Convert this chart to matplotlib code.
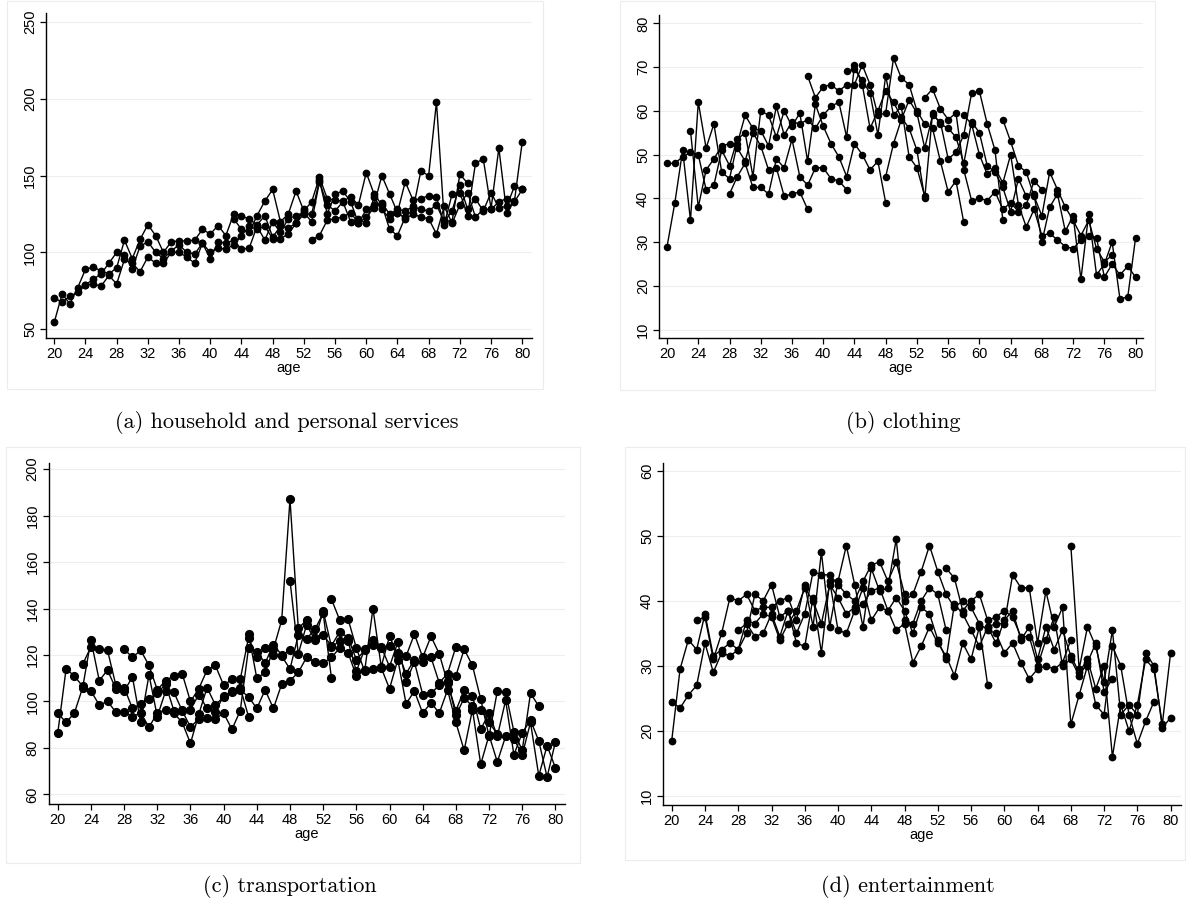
import matplotlib
matplotlib.use("Agg")
import matplotlib.pyplot as plt
from matplotlib.patches import Rectangle

plt.rcParams["font.family"] = ["Liberation Sans", "DejaVu Sans"]

# each series: (first age, values by consecutive age)
household = [
    (20, [70.5, 67.5, 71.5, 74, 79, 82.5, 86, 93, 100, 98.5, 89.5, 104, 107, 100, 96, 101, 105, 100, 99, 106,
          96, 107, 106, 108, 102, 103, 117, 108, 120, 113, 122, 124, 126, 120, 146, 131, 127, 133, 120, 122,
          119, 136, 128, 122, 126, 122, 125, 123, 122, 112, 130, 119, 131, 139, 123, 128, 128, 133, 135, 133, 141]),
    (20, [54.5, 73, 66.5, 77, 89, 90.5, 88, 86, 90, 108, 96, 108.5, 118, 111, 100, 107, 107.5, 107.5, 108, 115,
          112, 117.5, 111, 125, 124, 121.5, 118, 124, 110, 117, 116, 119, 125, 125, 147, 125, 138, 140, 133, 119,
          128, 131, 150, 138, 126, 146, 134, 135, 137, 136, 118, 138, 139, 124, 158, 161, 128.5, 168, 126, 133.5, 172]),
    (24, [79, 79.5, 78, 85, 79.5, 95.5, 93, 87.5, 97, 93, 93, 100, 100, 97, 93, 106, 100, 103, 102, 105,
          111, 117, 115, 117, 109, 109, 112, 119, 128]),
    (43, [122, 115, 113, 124, 133.5, 141, 120, 125, 140, 127, 133, 149, 135, 134, 133.5, 136, 131, 152, 138, 131,
          115, 111, 123, 128, 153, 150, 198, 121, 120, 151, 145]),
    (53, [108, 111, 121, 122, 123, 126, 119, 123, 129, 132, 125, 128, 127, 130, 128, 127, 131, 120, 127, 144,
          128, 135, 127, 139, 129, 130, 143, 141]),
]

clothing = [
    (20, [29, 39, 51, 35, 62, 51.5, 57, 46, 44.5, 52.5, 59, 56, 55.5, 52, 61, 54.5, 57.5, 57, 58, 56,
          59, 61, 62, 54, 70.5, 66, 56, 60, 64.5, 62, 58.5, 56, 51, 40, 59.5, 57, 56, 54, 48, 57.5,
          55, 47.5, 46, 42.5, 37, 44.5, 40.5, 41, 30, 38, 41, 32.5, 36, 21.5, 36.5, 22.5, 25, 30, 17, 17.5, 31]),
    (20, [48, 48, 49.5, 50.5, 50, 42, 43, 51, 47.5, 53.5, 55, 45, 60, 59, 54, 60, 56.5, 59.5, 48.5, 61.5,
          56.5, 52.5, 49.5, 45, 52.5, 50, 46.5, 48.5, 39]),
    (23, [55.5, 38, 46.5, 49, 52, 52.5, 51.5, 48.5, 55, 52, 46.5, 47, 40.5, 41, 41.5, 37.5]),
    (28, [41, 45, 48, 42.5, 42.5, 41, 49, 47, 53.5, 45, 43, 47, 47, 44.5, 44, 42]),
    (38, [68, 63, 65.5, 66, 64.5, 66, 66, 70.5, 66, 59, 59.5, 72, 67.5, 66, 60, 57, 56, 48.5, 41.5, 44, 34.5]),
    (43, [69, 69.5, 67, 64, 54.5, 68, 59, 61, 49.5, 47, 40.5]),
    (48, [45, 52.5, 58, 62.5, 59.5, 51.5, 59, 57.5, 49, 50.5, 54.5, 64, 64.5, 57, 51, 35]),
    (53, [63, 65, 60.5, 58, 59.5, 46.5, 39.5, 40, 39.5, 41.5, 37.5, 39, 37, 38.5, 44, 42]),
    (58, [59, 57, 50, 45.5, 47, 43.5, 50, 38.5, 33.5, 37.5, 31.5, 32, 30.5, 29, 28.5, 30.5, 31.5, 31, 22, 25,
          22.5, 24.5, 22]),
    (63, [58, 53, 47.5, 46, 40.5, 36, 46, 42, 38, 35, 31.5, 35, 28.5, 25.5, 27]),
]

transport = [
    (20, [86.5, 114, 111, 106.5, 104.5, 98.5, 100, 95.5, 95.5, 93.5, 95, 89, 95, 96.5, 95, 91, 82, 94.5, 106, 98.5,
          102, 104.5, 105, 102, 97, 105, 97, 107.5, 109, 112.5, 119, 117, 116.5, 119, 123, 121, 111, 113.5, 114, 114.5,
          105.5, 118, 99, 104.5, 95, 99.5, 95, 105, 91, 79, 96.5, 73, 85.5, 74, 85, 84, 77, 91, 68, 81, 71.5]),
    (20, [95, 91, 95, 106, 126.5, 109, 113.5, 105.5, 104.5, 110.5, 91, 111.5, 93.5, 104.5, 104, 96, 89, 92.5, 93, 92.5,
          95, 88, 96, 123, 121.5, 116.5, 124.5, 120, 122]),
    (23, [116, 123.5, 122.5, 122, 107, 106, 97, 99, 101, 103.5, 107.5, 96, 96.5, 96.5, 103, 97, 95.5, 102.5, 104, 106,
          93.5]),
    (28, [122.5, 119, 122, 115.5, 105, 109, 111, 112, 100, 105.5, 113.5, 115.5, 107, 109.5, 109.5, 127.5, 119, 123, 120, 119.5,
          114, 128.5, 127, 131, 138, 110]),
    (43, [129, 110, 112.5, 122.5, 135, 187, 131.5, 135, 127.5, 128.5, 124, 130, 127.5, 118, 122, 124.5, 123, 124, 121, 112,
          118, 117, 119, 108, 112, 123.5]),
    (48, [152, 120.5, 133, 126.5, 139, 123.5, 126, 126, 113, 122.5, 126.5, 123.5, 115, 125.5, 108.5, 117, 103, 103.5, 107, 109,
          94, 101.5, 98, 96.5, 91, 86]),
    (53, [144, 135, 135.5, 123, 113, 140, 115, 128, 120, 119.5, 129, 119, 128, 120.5, 108, 96, 105, 102.5, 88, 95,
          85, 100.5, 77, 86.5, 92, 83, 67.5, 82.5]),
    (68, [111, 122.5, 115.5, 101, 85, 104.5, 104, 87, 79, 103.5, 98]),
]

entertainment = [
    (20, [18.5, 29.5, 34, 32.5, 38, 31.5, 32.5, 33.5, 32.5, 37, 36.5, 38, 37.5, 34, 36.5, 38.5, 42, 40, 36.5, 42.5,
          40.5, 38, 39, 39.5, 41.5, 42, 38.5, 40.5, 38.5, 35, 39, 38, 34, 31, 39.5, 38, 35.5, 33, 36, 33.5,
          37, 38.5, 34, 36, 31, 36, 32.5, 35.5, 31.5, 29, 31, 26.5, 30, 16, 24, 20, 24, 31, 29.5, 21, 32]),
    (20, [24.5, 23.5, 25.5, 27, 33.5, 29, 32, 31.5, 32.5, 35, 41, 40, 42.5, 37.5, 38.5, 35, 38, 44.5, 44, 44,
          42.5, 41, 40, 43, 45.5, 46, 43, 46, 41]),
    (23, [37, 37.5, 31, 35, 40.5, 40, 41, 38.5, 39, 39, 40, 40.5, 37, 42.5, 36, 47.5, 36, 43, 48.5, 42.5,
          36, 45, 41.5, 42, 49.5, 37, 36.5, 40, 42, 41, 35.5]),
    (28, [35.5, 36.5, 34.5, 35, 38, 34.5, 38.5, 33.5, 33, 40.5, 32, 43, 35.5, 35, 38.5, 42, 37, 39, 38.5, 35.5,
          36.5, 30.5, 33, 36, 33.5, 31.5, 28.5, 33.5, 31, 36, 27]),
    (48, [40, 41, 44.5, 48.5, 44.5, 41, 39, 40, 39, 36.5, 35.5, 35, 32, 33.5, 30.5, 28, 29.5, 30, 29.5, 30.5,
          34]),
    (53, [45, 43.5, 38.5, 40, 41, 37, 37.5, 38.5, 37.5, 34.5, 34.5, 30, 34, 37.5, 30, 31, 28.5, 30.5, 33.5, 26,
          28]),
    (58, [36, 36.5, 36.5, 44, 42, 42, 33.5, 41.5, 36, 39, 21, 25.5, 30, 24, 22.5, 33, 30, 22.5, 18, 21.5,
          24.5]),
    (68, [48.5, 29.5, 36, 33, 27.5, 35.5, 22.5, 24, 22.5, 32, 30, 20.5, 22]),
]

captions = ["(a) household and personal services", "(b) clothing",
            "(c) transportation", "(d) entertainment"]
yticks = [range(50, 251, 50), range(10, 81, 10), range(60, 201, 20), range(10, 61, 10)]
ylims = [(44.3, 255.9), (8.1, 81.9), (55.9, 202.6), (8.6, 61.2)]
xlims = [(18.94, 81.25), (18.97, 80.95), (18.88, 81.16), (18.95, 81.25)]

W, H = 1186, 910
fig = plt.figure(figsize=(W / 100, H / 100), dpi=100)

# axes boxes in pixels: left, top, right, bottom
boxes = [(46, 13, 532, 338), (659, 15, 1143, 338), (48.5, 463, 565, 804), (663, 463, 1181, 805)]
frames = [(7, 1, 543, 389), (620, 1, 1155, 390), (6, 447, 580, 863), (625, 447, 1185, 860)]
cap_pos = [(287, 423), (903, 423), (290, 887), (908, 887)]
marker_sizes = [4.6, 4.4, 5.6, 4.6]

panels = [household, clothing, transport, entertainment]

for i, series in enumerate(panels):
    l, t, r, b = boxes[i]
    ax = fig.add_axes([l / W, 1 - b / H, (r - l) / W, (b - t) / H])
    for start, vals in series:
        ax.plot(range(start, start + len(vals)), vals, "-o", color="black",
                lw=1.0, ms=marker_sizes[i], mec="black", mfc="black")
    ax.set_xlim(*xlims[i])
    ax.set_ylim(*ylims[i])
    ax.set_xticks(range(20, 81, 4))
    ax.set_yticks(list(yticks[i]))
    ax.grid(axis="y", color="#eeeeee", lw=0.8)
    ax.set_axisbelow(True)
    for s in ["top", "right"]:
        ax.spines[s].set_visible(False)
    for s in ["left", "bottom"]:
        ax.spines[s].set_linewidth(1.0)
    ax.tick_params(length=4.5, width=0.9, pad=2, labelsize=10.5)
    ax.tick_params(axis="y", labelrotation=90)
    for lbl in ax.get_yticklabels():
        lbl.set_va("center")
    ax.set_xlabel("age", fontsize=10.5, labelpad=0)

    fl, ft, fr, fb = frames[i]
    fig.add_artist(Rectangle((fl / W, 1 - fb / H), (fr - fl) / W, (fb - ft) / H,
                             transform=fig.transFigure, fill=False,
                             edgecolor="#ececec", lw=0.8))
    cx, cy = cap_pos[i]
    fig.text(cx / W, 1 - cy / H, captions[i], family="cmr10", fontsize=16,
             ha="center", va="center")

fig.savefig("out.png", dpi=100)
